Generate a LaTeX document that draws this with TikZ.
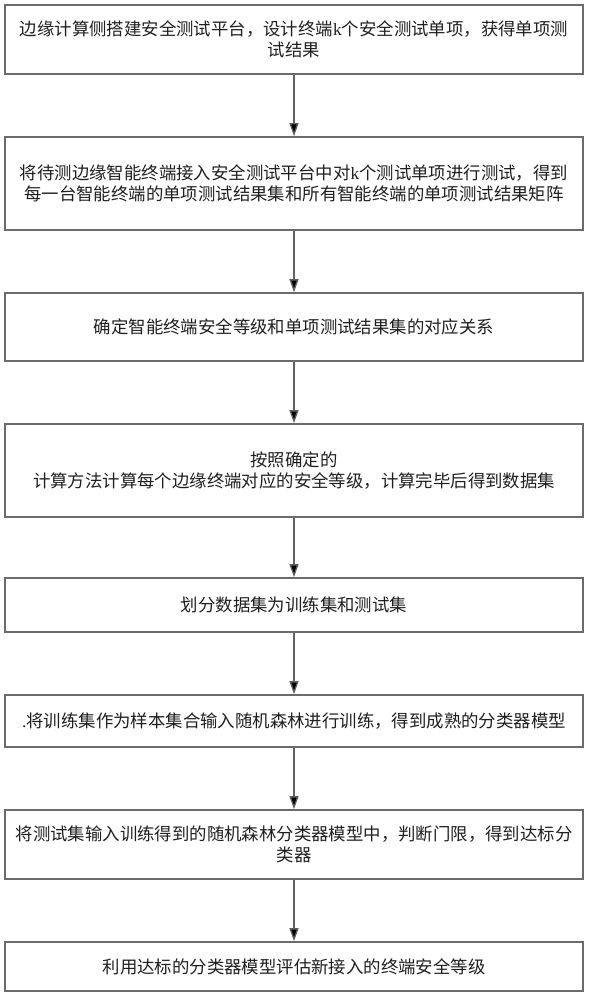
\documentclass[tikz,border=0pt]{standalone}
\usepackage{fontspec}
\setmainfont{Liberation Serif}
\newfontfamily\cjk{Noto Sans CJK SC}
\usetikzlibrary{arrows.meta}
\newcommand{\lat}[1]{{\rmfamily #1}}
\tikzset{
  stepbox/.style={draw=black!58, line width=1.6pt, rectangle, minimum width=578pt,
    inner sep=0pt, align=center, text=black!88,
    font=\cjk\fontsize{17.4}{21.5}\selectfont},
  flowarrow/.style={draw=black!62, line width=1.3pt, -{Triangle[length=13pt,width=9pt,fill=black]}}
}
\begin{document}
\begin{tikzpicture}[x=1pt,y=-1pt]
\useasboundingbox (0,0) rectangle (589,1000);
\node[stepbox, minimum height=69pt] (b1) at (294,39.5)
  {边缘计算侧搭建安全测试平台，设计终端\lat{k}个安全测试单项，获得单项测\\试结果};
\node[stepbox, minimum height=93pt] (b2) at (294,183.5)
  {将待测边缘智能终端接入安全测试平台中对\lat{k}个测试单项进行测试，得到\\每一台智能终端的单项测试结果集和所有智能终端的单项测试结果矩阵};
\node[stepbox, minimum height=68pt] (b3) at (294,327)
  {确定智能终端安全等级和单项测试结果集的对应关系};
\node[stepbox, minimum height=93pt] (b4) at (294,470.5)
  {按照确定的\\计算方法计算每个边缘终端对应的安全等级，计算完毕后得到数据集};
\node[stepbox, minimum height=54pt] (b5) at (294,605)
  {划分数据集为训练集和测试集};
\node[stepbox, minimum height=52pt] (b6) at (294,721)
  {\lat{.}将训练集作为样本集合输入随机森林进行训练，得到成熟的分类器模型};
\node[stepbox, minimum height=69pt] (b7) at (294,844.5)
  {将测试集输入训练得到的随机森林分类器模型中，判断门限，得到达标分\\类器};
\node[stepbox, minimum height=49pt] (b8) at (294,966.5)
  {利用达标的分类器模型评估新接入的终端安全等级};
\draw[flowarrow] (b1) -- (b2);
\draw[flowarrow] (b2) -- (b3);
\draw[flowarrow] (b3) -- (b4);
\draw[flowarrow] (b4) -- (b5);
\draw[flowarrow] (b5) -- (b6);
\draw[flowarrow] (b6) -- (b7);
\draw[flowarrow] (b7) -- (b8);
\end{tikzpicture}
\end{document}
